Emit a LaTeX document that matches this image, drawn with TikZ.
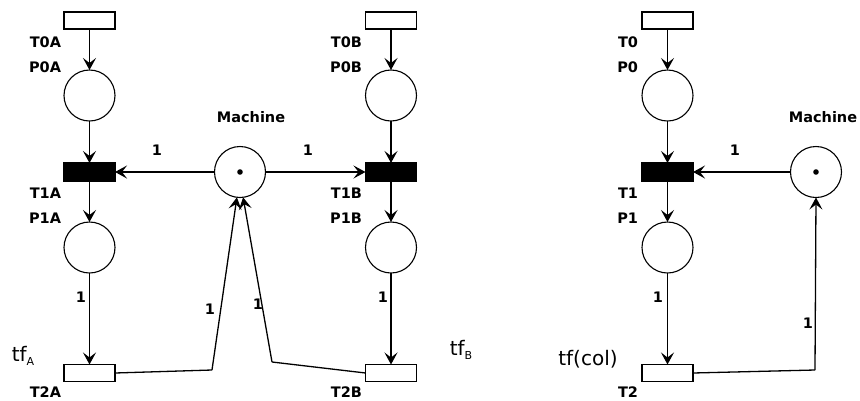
\documentclass[tikz,border=0pt]{standalone}
\usepackage{fontspec}
\setmainfont{DejaVu Sans}
\usetikzlibrary{arrows.meta}
\begin{document}
\begin{tikzpicture}[x=1pt,y=-1pt,
  every node/.style={inner sep=0pt,outer sep=0pt},
  trans/.style={draw,line width=1.1pt,minimum width=51pt,minimum height=17pt,fill=white},
  blk/.style={draw,line width=1.1pt,minimum width=51pt,minimum height=18pt,fill=black},
  place/.style={draw,circle,line width=1.1pt,minimum size=51pt},
  lab/.style={font=\fontsize{14.5}{15}\selectfont\bfseries,anchor=east},
  wt/.style={font=\fontsize{14.5}{15}\selectfont\bfseries},
  tflab/.style={font=\fontsize{20}{22}\selectfont},
  arc/.style={line width=1.3pt,-{Stealth[length=12pt,width=13pt,inset=5pt]}},
  seg/.style={line width=1.3pt}]
\useasboundingbox (0,0) rectangle (860,400);
% ---- net A ----
\node[trans] (T0A) at (89.5,20.5) {};
\node[place] (P0A) at (89.5,95.5) {};
\node[blk] (T1A) at (89.5,172) {};
\node[place] (P1A) at (89.5,247.5) {};
\node[trans] (T2A) at (89.5,373) {};
\node[lab] (lT0A) at (61,42) {T0A};
\node[lab] (lP0A) at (61,67) {P0A};
\node[lab] (lT1A) at (61,193) {T1A};
\node[lab] (lP1A) at (61,218) {P1A};
\node[lab] (lT2A) at (61,392.5) {T2A};
% ---- net B ----
\node[trans] (T0B) at (391,20.5) {};
\node[place] (P0B) at (391,95.5) {};
\node[blk] (T1B) at (391,172) {};
\node[place] (P1B) at (391,247.5) {};
\node[trans] (T2B) at (391,373) {};
\node[lab] (lT0B) at (362,42) {T0B};
\node[lab] (lP0B) at (362,67) {P0B};
\node[lab] (lT1B) at (362,193) {T1B};
\node[lab] (lP1B) at (362,218) {P1B};
\node[lab] (lT2B) at (362,392.5) {T2B};
% ---- machine (shared) ----
\node[place] (M) at (240,172) {};
\fill (M.center) circle (2.8pt);
\node[wt] (lM) at (251,117) {Machine};
% ---- net C ----
\node[trans] (T0) at (667.5,20.5) {};
\node[place] (P0) at (667.5,95.5) {};
\node[blk] (T1) at (667.5,172) {};
\node[place] (P1) at (667.5,247.5) {};
\node[trans] (T2) at (667.5,373) {};
\node[lab] (lT0) at (638,42) {T0};
\node[lab] (lP0) at (638,67) {P0};
\node[lab] (lT1) at (638,193) {T1};
\node[lab] (lP1) at (638,218) {P1};
\node[lab] (lT2) at (638,392.5) {T2};
\node[place] (M2) at (816,172) {};
\fill (M2.center) circle (2.8pt);
\node[wt] (lM2) at (823,117) {Machine};
% ---- tf labels ----
\node[tflab] (tfA) at (23,356) {tf\raisebox{-4pt}{\fontsize{11}{11}\selectfont A}};
\node[tflab] (tfB) at (461,350) {tf\raisebox{-4pt}{\fontsize{11}{11}\selectfont B}};
\node[tflab] (tfC) at (588,359) {tf(col)};
% ---- coordinates ----
\coordinate (kA) at (212,370);
\coordinate (kB) at (272,362);
\coordinate (kC) at (815,370);
% ---- arcs A ----
\draw[arc] (T0A) -- (P0A);
\draw[arc] (P0A) -- (T1A);
\draw[arc] (T1A) -- (P1A);
\draw[arc] (P1A) -- (T2A);
\node[wt] (w1) at (81,297) {1};
\draw[arc] (M) -- (T1A);
\node[wt] (w2) at (157,150) {1};
\draw[arc] (M) -- (T1B);
\node[wt] (w3) at (308,150) {1};
\draw[seg] (T2A.east) -- (kA);
\draw[arc] (kA) -- (M.263);
\node[wt] (w4) at (210,309) {1};
\draw[seg] (T2B.west) -- (kB);
\draw[arc] (kB) -- (M.277);
\node[wt] (w5) at (258,304) {1};
% ---- arcs B ----
\draw[arc] (T0B) -- (P0B);
\draw[arc] (P0B) -- (T1B);
\draw[arc] (T1B) -- (P1B);
\draw[arc] (P1B) -- (T2B);
\node[wt] (w6) at (383,297) {1};
% ---- arcs C ----
\draw[arc] (T0) -- (P0);
\draw[arc] (P0) -- (T1);
\draw[arc] (T1) -- (P1);
\draw[arc] (P1) -- (T2);
\node[wt] (w7) at (658,297) {1};
\draw[arc] (M2) -- (T1);
\node[wt] (w8) at (735,150) {1};
\draw[seg] (T2.east) -- (kC);
\draw[arc] (kC) -- (M2.south);
\node[wt] (w9) at (808,323) {1};
\end{tikzpicture}
\end{document}
